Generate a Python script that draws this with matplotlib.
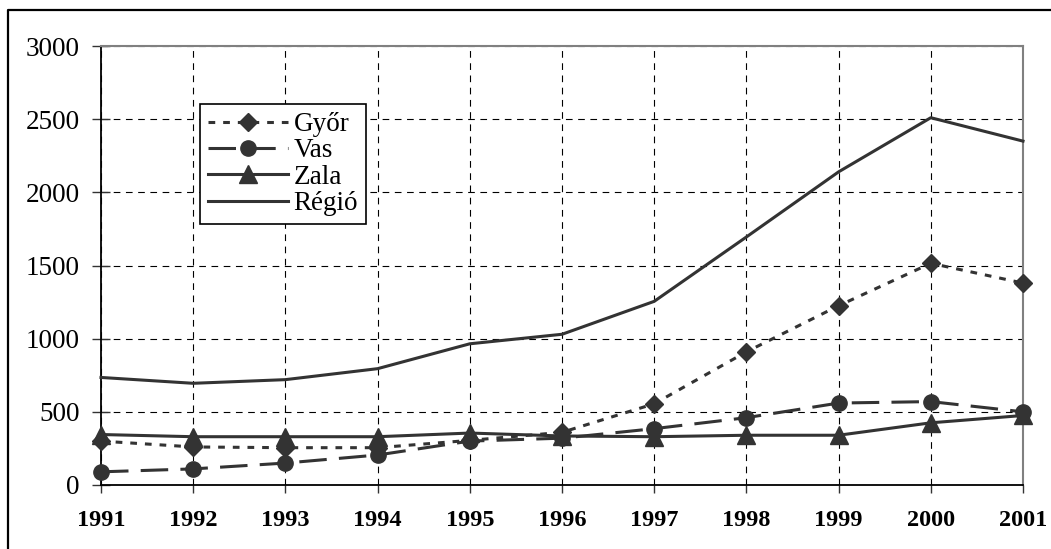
import matplotlib
matplotlib.use('Agg')
import matplotlib.pyplot as plt
from matplotlib.lines import Line2D

plt.rcParams['font.family'] = ['Liberation Serif', 'DejaVu Serif']

years = [1991, 1992, 1993, 1994, 1995, 1996, 1997, 1998, 1999, 2000, 2001]
gyor = [300, 260, 255, 255, 305, 360, 555, 910, 1225, 1515, 1380]
vas = [90, 110, 150, 205, 300, 320, 385, 460, 560, 570, 500]
zala = [345, 330, 330, 330, 355, 335, 330, 340, 340, 425, 475]
regio = [735, 695, 720, 795, 965, 1030, 1255, 1695, 2140, 2510, 2350]
yticks = [0, 500, 1000, 1500, 2000, 2500, 3000]

col = '#333333'

fig = plt.figure(figsize=(10.51, 5.49), dpi=100)
ax = fig.add_axes([101 / 1051, 1 - 485 / 549, 922 / 1051, 439 / 549])

ax.plot(years, gyor, color=col, lw=2.2, ls=(0, (2.2, 2.6)), marker='D',
        ms=9.5, label='Győr', clip_on=False, zorder=4)
ax.plot(years, vas, color=col, lw=2.2, ls=(0, (9, 4)), marker='o',
        ms=11, label='Vas', clip_on=False, zorder=4)
ax.plot(years, zala, color=col, lw=2.2, ls='-', marker='^',
        ms=13, label='Zala', clip_on=False, zorder=4)
ax.plot(years, regio, color=col, lw=2.2, ls='-', label='Régió',
        clip_on=False, zorder=4)

ax.set_xlim(1991, 2001)
ax.set_ylim(0, 3000)
ax.set_xticks(years)
ax.set_yticks(yticks)
ax.set_xticklabels([str(y) for y in years], fontweight='bold', fontsize=17.5)
ax.set_yticklabels([str(v) for v in yticks], fontsize=19.5)

ax.grid(True, color='black', lw=0.8, ls=(0, (6, 5)))
ax.set_axisbelow(True)

ax.tick_params(axis='y', direction='inout', length=13, width=1, pad=9,
               color='#333333')
ax.tick_params(axis='x', direction='out', length=6, width=1, pad=12,
               color='#333333')

for s in ['left', 'bottom']:
    ax.spines[s].set_color('black')
    ax.spines[s].set_linewidth(1.3)
for s in ['top', 'right']:
    ax.spines[s].set_color('#808080')
    ax.spines[s].set_linewidth(1.5)

leg = ax.legend(loc='upper left', bbox_to_anchor=(200 / 1051, 1 - 104 / 549),
                bbox_transform=fig.transFigure, fontsize=19.5, frameon=True,
                fancybox=False, framealpha=1, edgecolor='black',
                handlelength=2.95, handletextpad=0.2, labelspacing=0.05,
                borderpad=0.3, borderaxespad=0)
leg.get_frame().set_linewidth(1.2)

# outer frame (top and left edges visible)
fig.add_artist(Line2D([8 / 1051, 8 / 1051, 1.0], [0.0, 1 - 10 / 549, 1 - 10 / 549],
                      transform=fig.transFigure, color='black', lw=1.6))

fig.savefig('out.png', dpi=100)
